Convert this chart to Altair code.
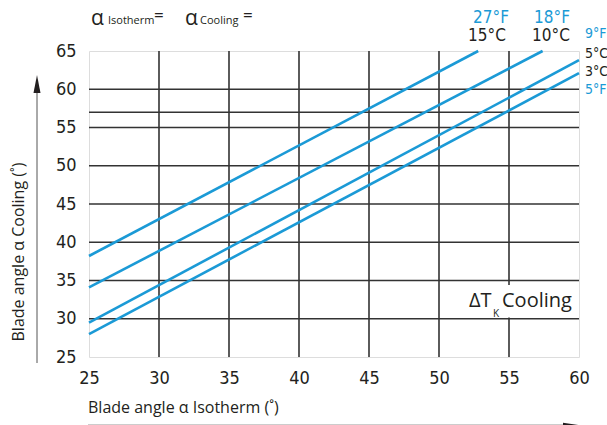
import altair as alt
import pandas as pd

# ---- data ----
iso_ticks = [25, 30, 35, 40, 45, 50, 55, 60]
cool_ticks = [25, 30, 35, 40, 45, 50, 55, 60, 65]
v_grid = [30, 35, 40, 45, 50, 55]
h_grid = [30, 35, 40, 45, 50, 55, 57, 60]

series = ["15°C / 27°F", "10°C / 18°F", "5°C / 9°F", "3°C / 5°F"]
iso_start = [25, 25, 25, 25]
iso_end = [52.8, 57.4, 60, 60]
cool_start = [38.2, 34.1, 29.5, 28.0]
cool_end = [65, 65, 63.8, 62.1]

rows = []
for s, x0, x1, y0, y1 in zip(series, iso_start, iso_end, cool_start, cool_end):
    rows.append({"series": s, "iso": x0, "cool": y0})
    rows.append({"series": s, "iso": x1, "cool": y1})
lines_df = pd.DataFrame(rows)

BLUE = "#1b9ad6"
DARK = "#231f20"
NUM_FONT = "DejaVu Sans Condensed, Liberation Sans Narrow, Liberation Sans, sans-serif"
TXT_FONT = "Open Sans, Noto Sans, sans-serif"

xs = alt.Scale(domain=[25, 60], nice=False, zero=False)
ys = alt.Scale(domain=[25, 65], nice=False, zero=False)

x_axis = alt.Axis(values=iso_ticks, title=None, grid=False, ticks=False, tickSize=0,
                  domain=False, labelFontSize=18, labelFont=NUM_FONT, labelColor=DARK,
                  labelPadding=12, labelFlush=False, labelOverlap=False)
y_axis = alt.Axis(values=cool_ticks, title=None, grid=False, ticks=False, tickSize=0,
                  domain=False, labelFontSize=18, labelFont=NUM_FONT, labelColor=DARK,
                  labelPadding=13, labelFlush=False, labelOverlap=False)

dummy = pd.DataFrame({"d": [0]})

vgrid = alt.Chart(pd.DataFrame({"iso": v_grid})).mark_rule(
    color="#333333", strokeWidth=1.6).encode(x=alt.X("iso:Q", scale=xs, axis=x_axis))
hgrid = alt.Chart(pd.DataFrame({"cool": h_grid})).mark_rule(
    color="#333333", strokeWidth=1.6).encode(y=alt.Y("cool:Q", scale=ys, axis=y_axis))

box = alt.Chart(dummy).mark_rect(color="white").encode(
    x=alt.value(355), x2=alt.value(487), y=alt.value(234), y2=alt.value(266.5))

lines = alt.Chart(lines_df).mark_line(color=BLUE, strokeWidth=2.6).encode(
    x=alt.X("iso:Q", scale=xs, axis=x_axis),
    y=alt.Y("cool:Q", scale=ys, axis=y_axis),
    detail="series:N",
)


def txt(s, x, y, size, color=DARK, font=TXT_FONT, align="left", baseline="middle", angle=0):
    return alt.Chart(dummy).mark_text(
        text=s, fontSize=size, color=color, font=font, align=align,
        baseline=baseline, angle=angle).encode(x=alt.value(x), y=alt.value(y))


texts = [
    # top formula
    txt("α", 2, -32, 21),
    txt("Isotherm", 19, -30, 11),
    txt("=", 65, -35, 17),
    txt("α", 96, -32, 21),
    txt("Cooling", 111, -30, 11),
    txt("=", 154, -35, 17),
    # curve labels
    txt("27°F", 402, -33, 17, BLUE, NUM_FONT, "center"),
    txt("15°C", 398, -15, 17, DARK, NUM_FONT, "center"),
    txt("18°F", 463, -33, 17, BLUE, NUM_FONT, "center"),
    txt("10°C", 462, -15, 17, DARK, NUM_FONT, "center"),
    txt("9°F", 496, -17, 14, BLUE, NUM_FONT),
    txt("5°C", 496, 3, 14, DARK, NUM_FONT),
    txt("3°C", 496, 21, 14, DARK, NUM_FONT),
    txt("5°F", 496, 39, 14, BLUE, NUM_FONT),
    # ΔT_K Cooling
    txt("ΔT", 380, 250, 20),
    txt("K", 404, 263, 10),
    txt("Cooling", 413, 250, 20),
    # axis titles
    txt("Blade angle α Cooling (˚)", -70, 201, 16, angle=270, align="center"),
    txt("Blade angle  α Isotherm (˚)", -1, 357, 16),
]

# arrows
y_arrow = alt.Chart(dummy).mark_rule(color="#555555", strokeWidth=1).encode(
    x=alt.value(-52), y=alt.value(42), y2=alt.value(312))
y_head = alt.Chart(dummy).mark_point(
    shape="M0,-1L0.39,1L-0.39,1Z", size=324, filled=True, color=DARK, opacity=1).encode(
    x=alt.value(-52), y=alt.value(33))
x_arrow = alt.Chart(dummy).mark_rule(color="#cccccc", strokeWidth=1).encode(
    x=alt.value(-1), x2=alt.value(476), y=alt.value(373.5))
x_head = alt.Chart(dummy).mark_point(
    shape="M1,0L-1,-0.3L-1,0.3Z", size=484, filled=True, color=DARK, opacity=1).encode(
    x=alt.value(485), y=alt.value(375))

chart = alt.layer(vgrid, hgrid, box, lines, *texts, y_arrow, y_head, x_arrow, x_head).properties(
    width=490, height=306,
    autosize=alt.AutoSizeParams(type="none"),
    padding={"left": 89, "top": 51, "right": 28, "bottom": 68},
).configure_view(stroke=DARK, strokeWidth=3.5).configure(background="white")

chart.save("out.html", embed_options={"renderer": "svg", "actions": False})
